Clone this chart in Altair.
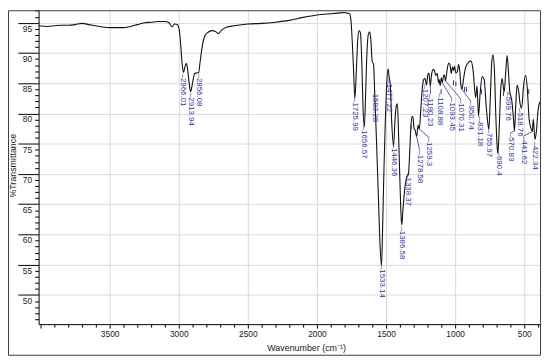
import altair as alt
import pandas as pd

# ---- spectrum (wavenumber cm-1, %T) ----
wn = [4014, 3950, 3900, 3850, 3800, 3750, 3700, 3650, 3600, 3550, 3500, 3450, 3400, 3350, 3300,
      3250, 3200, 3150, 3100, 3070, 3050, 3030, 3010, 2995, 2985, 2975, 2966, 2955, 2945, 2935,
      2925, 2914, 2900, 2885, 2870, 2856, 2845, 2830, 2815, 2790, 2760, 2730, 2714, 2690, 2650,
      2600, 2500, 2400, 2300, 2200, 2100, 2000, 1900, 1850, 1800, 1780, 1765, 1755, 1745, 1735,
      1726, 1715, 1705, 1695, 1685, 1675, 1667, 1657, 1648, 1640, 1628, 1618, 1610, 1600, 1590,
      1583, 1570, 1555, 1545, 1533, 1525, 1515, 1505, 1495, 1485, 1477, 1470, 1460, 1446, 1435,
      1425, 1418, 1410, 1400, 1390, 1386, 1378, 1365, 1350, 1338, 1330, 1320, 1312, 1305, 1298,
      1290, 1278.6, 1268, 1259.3, 1250, 1240, 1228, 1218, 1207.2, 1198, 1190, 1180.2, 1170, 1158, 1150,
      1140, 1130, 1120, 1115, 1108.9, 1100, 1093.5, 1085, 1078, 1070.3, 1060, 1048, 1038, 1028, 1020,
      1012, 1005, 995, 985, 975, 968, 958, 950.7, 940, 925, 905, 886, 870, 852, 842,
      831.2, 820, 805, 790, 775, 762, 756, 745, 735, 726, 716, 705, 695, 690.4, 682,
      670, 660, 650, 645, 635, 624, 615, 605, 599.8, 590, 578, 570.8, 562, 552, 540,
      530, 518.8, 505, 490, 478, 465, 452, 441.6, 435, 428, 422.3, 412, 400, 386]
tr = [94.5, 94.4, 94.5, 94.6, 94.6, 94.7, 94.9, 94.7, 94.5, 94.3, 94.2, 94.2, 94.2, 94.4, 94.7,
      95.0, 95.1, 95.2, 95.2, 95.0, 94.3, 94.8, 94.7, 93.6, 91.1, 88.1, 86.8, 87.7, 88.3, 87.1,
      85.1, 83.6, 85.1, 86.6, 86.7, 86.8, 88.6, 91.1, 92.6, 93.4, 93.7, 93.5, 93.2, 93.8, 94.3,
      94.5, 94.8, 94.9, 95.1, 95.4, 95.9, 96.3, 96.5, 96.6, 96.7, 96.6, 96.5, 95.6, 92.1, 87.1,
      82.5, 87.1, 92.1, 93.7, 93.3, 88.1, 81.1, 77.8, 83.1, 89.1, 93.1, 93.5, 92.1, 88.6, 88.1,
      83.9, 76.0, 66.0, 59.0, 54.85, 61.0, 71.0, 79.0, 85.0, 87.4, 85.9, 85.0, 79.0, 74.6, 79.0,
      81.4, 81.6, 77.0, 69.0, 62.5, 61.6, 64.0, 67.5, 69.5, 70.0, 73.0, 78.0, 79.5, 79.4, 77.6,
      77.3, 76.2, 78.1, 77.4, 80.1, 83.6, 85.6, 85.8, 84.7, 86.4, 86.7, 84.6, 86.6, 87.3, 87.1,
      86.3, 86.6, 85.1, 85.6, 84.6, 85.9, 85.1, 86.1, 86.4, 85.4, 86.9, 88.3, 88.1, 86.6, 87.7,
      87.1, 87.8, 86.7, 86.9, 88.1, 87.3, 84.6, 84.0, 85.6, 87.6, 88.4, 88.7, 87.1, 82.6, 84.6,
      79.6, 83.1, 86.1, 85.6, 81.1, 78.1, 77.4, 83.1, 88.6, 89.7, 87.1, 79.1, 74.1, 73.4, 77.1,
      84.1, 85.8, 84.1, 83.6, 86.6, 89.6, 87.1, 83.6, 83.1, 82.1, 79.1, 77.1, 81.1, 84.7, 83.6,
      81.6, 80.9, 84.6, 86.3, 84.1, 79.1, 77.6, 77.0, 79.1, 77.1, 75.7, 77.1, 80.6, 82.0]

# ---- peak labels ----
peak_labels = ["2966.01", "2913.94", "2856.08", "1725.99", "1656.57", "1583.28", "1533.14",
               "1477.22", "1446.36", "1386.58", "1338.37", "1278.58", "1259.3", "1207.23",
               "1180.23", "1108.88", "1093.45", "1070.31", "950.74", "831.18", "755.97",
               "690.4", "599.76", "570.83", "518.76", "441.62", "422.34"]
peak_wn = [2966.01, 2913.94, 2856.08, 1725.99, 1656.57, 1583.28, 1533.14, 1477.22, 1446.36,
           1386.58, 1338.37, 1278.58, 1259.3, 1207.23, 1180.23, 1108.88, 1093.45, 1070.31,
           950.74, 831.18, 755.97, 690.4, 599.76, 570.83, 518.76, 441.62, 422.34]
peak_t = [86.8, 83.6, 86.8, 82.5, 77.8, 83.9, 54.85, 85.9, 74.6, 61.6, 70.0, 76.2, 77.4, 84.7,
          84.6, 84.6, 85.1, 85.4, 84.0, 79.6, 77.4, 73.4, 83.1, 77.1, 80.9, 77.0, 75.7]
text_wn = [2966, 2914, 2856, 1726, 1657, 1583, 1533, 1477, 1446, 1386, 1338, 1257, 1186, 1221,
           1179, 1107, 1026, 959, 888, 821, 754, 686, 621, 598, 534, 504, 425]
text_t = [86.6, 83.4, 86.6, 82.55, 77.98, 84.0, 54.96, 85.65, 75.04, 61.33, 70.14, 73.9, 76.0,
          84.8, 83.2, 83.4, 82.55, 82.4, 82.06, 79.3, 77.5, 73.7, 83.5, 76.8, 80.9, 76.3, 75.4]
leader = [0, 0, 0, 0, 0, 0, 0, 0, 0, 0, 0, 1, 1, 0, 1, 0, 1, 1, 1, 1, 0, 0, 1, 1, 0, 1, 0]

# ---- small unlabeled peak marks ----
mark_wn = [1318, 1102, 1012, 995, 932, 918, 809, 650, 468]
mark_t = [78.2, 84.0, 85.5, 85.3, 84.4, 84.4, 84.0, 83.7, 84.0]

# ---- axes ----
x_ticks = list(range(400, 4001, 100))
y_ticks = list(range(46, 98))

spec = pd.DataFrame({"wn": wn, "t": tr})
labels = pd.DataFrame({"label": peak_labels, "pw": peak_wn, "pt": peak_t,
                       "tw": text_wn, "tt": text_t, "lead": leader})
marks = pd.DataFrame({"w": mark_wn, "t": mark_t})

xs = alt.Scale(domain=[386, 4014], reverse=True, nice=False, zero=False)
ys = alt.Scale(domain=[45.17, 97.07], nice=False, zero=False)

FONT = "Liberation Sans, Arial, Helvetica, sans-serif"
BLUE = "#2f2fb0"

x_axis = alt.Axis(
    values=x_ticks,
    labelExpr="datum.value % 500 === 0 && datum.value < 4000 ? format(datum.value, 'd') : ''",
    tickSize={"condition": {"test": "datum.value % 500 === 0", "value": 4}, "value": 3},
    grid=True,
    gridColor="#d9d9d9",
    gridOpacity={"condition": {"test": "datum.value % 500 === 0 && datum.value < 4000", "value": 1}, "value": 0},
    domainColor="#000", tickColor="#000",
    labelFont=FONT, labelFontSize=8.5, labelColor="#222", labelPadding=2,
    labelOverlap=False, labelFlush=False,
    title="Wavenumber  (cm⁻¹)", titleFont=FONT, titleFontSize=9, titleFontWeight="normal",
    titleColor="#222", titleX=271, titleY=24, titleBaseline="middle",
)
y_axis = alt.Axis(
    values=y_ticks,
    labelExpr="datum.value % 5 === 0 ? format(datum.value, 'd') : ''",
    tickSize={"condition": {"test": "datum.value % 5 === 0", "value": 21}, "value": 4},
    grid=True,
    gridColor="#d9d9d9",
    gridOpacity={"condition": {"test": "datum.value % 5 === 0", "value": 1}, "value": 0},
    domainColor="#000", tickColor="#000",
    labelFont=FONT, labelFontSize=8.5, labelColor="#222", labelPadding=-14,
    labelBaseline="top", labelOffset=1.5,
    labelOverlap=False, labelFlush=False,
    title="%Transmittance", titleFont=FONT, titleFontSize=9, titleFontWeight="normal",
    titleColor="#222", titleX=-26, titleY=157, titleBaseline="middle",
)

line = alt.Chart(spec).mark_line(color="#111", strokeWidth=1.1, interpolate="monotone", clip=True).encode(
    x=alt.X("wn:Q", scale=xs, axis=x_axis),
    y=alt.Y("t:Q", scale=ys, axis=y_axis),
)

leaders = alt.Chart(labels).transform_filter("datum.lead == 1").mark_rule(
    color=BLUE, strokeWidth=0.8).encode(
    x=alt.X("pw:Q", scale=xs, axis=x_axis),
    y=alt.Y("pt:Q", scale=ys, axis=y_axis),
    x2="tw:Q", y2="tt:Q",
)

texts = alt.Chart(labels).transform_calculate(disp="'–' + datum.label").mark_text(
    angle=90, align="left", baseline="middle", fontSize=8, font=FONT, color=BLUE).encode(
    x=alt.X("tw:Q", scale=xs, axis=x_axis),
    y=alt.Y("tt:Q", scale=ys, axis=y_axis),
    text="disp:N",
)

ticks = alt.Chart(marks).transform_calculate(t2="datum.t - 0.8").mark_rule(
    color=BLUE, strokeWidth=1).encode(
    x=alt.X("w:Q", scale=xs, axis=x_axis),
    y=alt.Y("t:Q", scale=ys, axis=y_axis),
    y2="t2:Q",
)

frame = alt.Chart(pd.DataFrame({"a": [1]})).mark_rect(
    fill="transparent", stroke="#3a3a3a", strokeWidth=1).encode(
    x=alt.value(-30.5), x2=alt.value(508.5), y=alt.value(0.5), y2=alt.value(349.5),
)

chart = alt.layer(line, leaders, ticks, texts, frame).properties(
    width=508, height=318, autosize="none",
    padding={"left": 31, "top": 0, "right": 2, "bottom": 33},
    background="white",
).configure_view(stroke=None)

chart.save("out.html", embed_options={"renderer": "svg", "actions": False})
